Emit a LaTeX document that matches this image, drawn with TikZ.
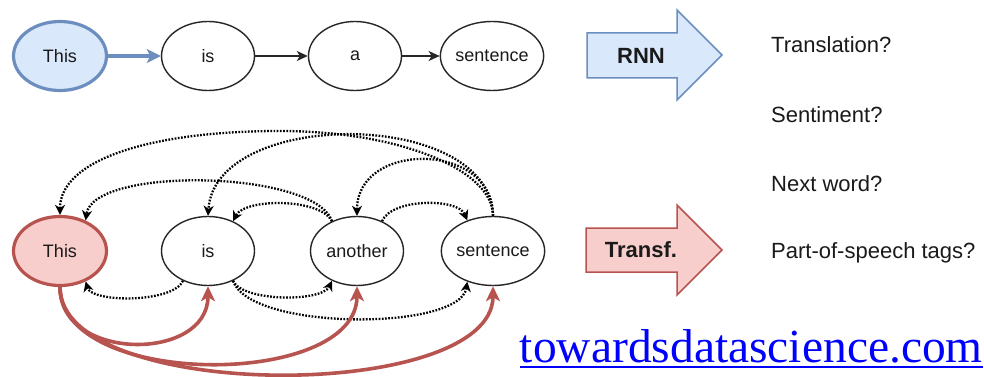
\documentclass[tikz,border=0pt]{standalone}
\usepackage{fontspec}
\setmainfont{Liberation Sans}
\newfontfamily\wmfont{Liberation Serif}
\usetikzlibrary{shapes.geometric,arrows.meta}
\definecolor{bluefill}{HTML}{DAE8FC}
\definecolor{bluedraw}{HTML}{6C8EBF}
\definecolor{redfill}{HTML}{F8CECC}
\definecolor{reddraw}{HTML}{B85450}
\definecolor{txt}{HTML}{1A1A1A}
\begin{document}
\begin{tikzpicture}[x=1pt,y=-1pt,
 word/.style={ellipse, draw=black!85, line width=1.4pt, minimum width=93pt, minimum height=69pt, inner sep=0pt, font=\fontsize{18}{20}\selectfont, text=txt},
 blueword/.style={word, draw=bluedraw, fill=bluefill, line width=3.2pt},
 redword/.style={word, draw=reddraw, fill=redfill, line width=3.2pt},
 seq/.style={line width=1.4pt, draw=black!85, -{Stealth[length=11pt,width=10pt,inset=3pt]}},
 rnnarrow/.style={line width=4pt, draw=bluedraw, -{Stealth[length=14pt,width=14pt,inset=3.5pt]}},
 att/.style={line width=2.3pt, dash pattern=on 1.7pt off 1.5pt, -{Stealth[length=10pt,width=10pt,inset=3pt]}},
 redatt/.style={line width=3.6pt, draw=reddraw, -{Stealth[length=15pt,width=14pt,inset=4pt]}},
 block/.style={line width=1.5pt, line join=miter},
 boldlbl/.style={font=\fontsize{22}{24}\selectfont\bfseries, text=txt},
 task/.style={anchor=base west, font=\fontsize{22}{26}\selectfont, text=txt, inner sep=0pt},
]
\useasboundingbox[fill=white] (0,0) rectangle (984,377);

% top row
\node[blueword] (t1) at (60,56) {This};
\node[word] (t2) at (208,56) {is};
\node[word] (t3) at (355,56) {a};
\node[word] (t4) at (492,56) {sentence};
\draw[rnnarrow] (t1) -- (t2);
\draw[seq] (t2) -- (t3);
\draw[seq] (t3) -- (t4);

% bottom row
\node[redword] (b1) at (60,251) {This};
\node[word] (b2) at (208,251) {is};
\node[word] (b3) at (357,251) {another};
\node[word] (b4) at (493,251) {sentence};
\coordinate (peak) at (280,131);

% dotted attention arcs (above)
\draw[att] (b4.north) .. controls (493,170) and (400,131) .. (peak) .. controls (150,131) and (60,160) .. (b1.north);
\draw[att] (b4.north) .. controls (490,108) and (215,108) .. (b2.north);
\draw[att] (b4.north) .. controls (493,141) and (357,141) .. (b3.north);
\draw[att] (b3.130) .. controls (315,170) and (93,166) .. (b1.50);
\draw[att] (b3.130) .. controls (320,198) and (245,198) .. (b2.50);
\draw[att] (b3.50) .. controls (392,198) and (458,198) .. (b4.130);
% dotted attention arcs (below)
\draw[att] (b2.230) .. controls (173,303) and (92,303) .. (b1.310);
\draw[att] (b2.310) .. controls (243,302) and (322,302) .. (b3.230);
\draw[att] (b2.310) .. controls (250,331) and (460,331) .. (b4.230);

% red arrows
\draw[redatt] (b1.south) .. controls (60,362) and (208,362) .. (b2.south);
\draw[redatt] (b1.south) .. controls (60,389) and (357,389) .. (b3.south);
\draw[redatt] (b1.south) .. controls (60,403) and (493,403) .. (b4.south);

% block arrows
\draw[block, fill=bluefill, draw=bluedraw] (587,33) -- (677,33) -- (677,10) -- (722,55) -- (677,100) -- (677,78) -- (587,78) -- cycle;
\node[boldlbl] (rnn) at (641,56) {RNN};
\draw[block, fill=redfill, draw=reddraw] (586,228) -- (677,228) -- (677,205) -- (722,250) -- (677,295) -- (677,272) -- (586,272) -- cycle;
\node[boldlbl] (tf) at (641,250) {Transf.};

% tasks
\node[task] (q1) at (771,53) {Translation?};
\node[task] (q2) at (771,122) {Sentiment?};
\node[task] (q3) at (771,191) {Next word?};
\node[task] (q4) at (771,258) {Part-of-speech tags?};

% watermark
\node[anchor=base east, inner sep=0pt, font=\wmfont\fontsize{47.5}{50}\selectfont, text=blue] (wm) at (983,362) {towardsdatascience.com};
\draw[blue, line width=2pt] ([yshift=-5pt]wm.base west) -- ([yshift=-5pt]wm.base east);
\end{tikzpicture}
\end{document}
